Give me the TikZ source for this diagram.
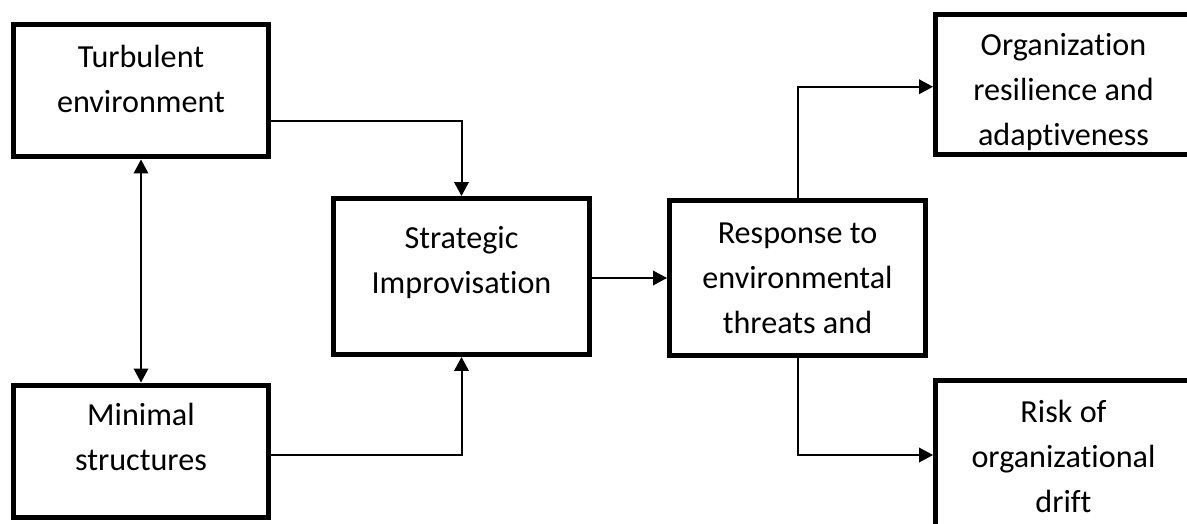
\documentclass[tikz,border=0pt]{standalone}
\usepackage{fontspec}
\setmainfont{Carlito}[Ligatures={NoCommon,NoRare}]
\usetikzlibrary{arrows.meta}
\usetikzlibrary{positioning}
\usetikzlibrary{calc}

\begin{document}
\begin{tikzpicture}[x=0.02cm,y=-0.02cm,
    >={Triangle[length=0.28cm,width=0.29cm]},
    blk/.style={draw,line width=0.1cm,minimum width=5.12cm,inner sep=0pt},
    txt/.style={align=center,inner sep=0pt,font=\fontsize{18.3}{25.6}\selectfont},
    lnk/.style={line width=0.04cm}]
          \useasboundingbox (0,0) rectangle (1187,524);
          \clip (0,0) rectangle (1187,524);

          % boxes
          \node[blk,minimum height=2.66cm] (turb) at (141,90.5) {};
          \node[blk,minimum height=2.66cm] (mini) at (141,451.5) {};
          \node[blk,minimum height=3.12cm] (strat) at (461.5,276.5) {};
          \node[blk,minimum height=3.1cm] (resp) at (797.5,278) {};
          \node[blk,minimum height=2.81cm] (org) at (1063.5,84.75) {};
          \node[blk,minimum height=2.98cm] (risk) at (1063.5,455) {};

          % texts, placed by their last line
          \node[txt,anchor=base] (turbtxt) at ($(turb.north)+(0,90.5)$) {Turbulent\\environment};
          \node[txt,anchor=base] (minitxt) at ($(mini.north)+(0,87.5)$) {Minimal\\structures};
          \node[txt,anchor=base] (strattxt) at ($(strat.north)+(0,97)$) {Strategic\\Improvisation};
          \node[txt,anchor=base] (resptxt) at ($(resp.north)+(0,135)$) {Response to\\environmental\\threats and};
          \node[txt,anchor=base] (orgtxt) at ($(org.north)+(0,133)$) {Organization\\resilience and\\adaptiveness};
          \node[txt,anchor=base] (risktxt) at ($(risk.north)+(0,134)$) {Risk of\\organizational\\drift};

          % links
          \draw[lnk,<->] (turb.south) -- (mini.north);
          \draw[lnk,->] ([yshift=-0.61cm]turb.east) -| (strat.north);
          \draw[lnk,->] ([yshift=-0.07cm]mini.east) -| (strat.south);
          \draw[lnk,->] (strat.east |- resp.west) -- (resp.west);
          \draw[lnk,->] (resp.north) |- ([yshift=-0.04cm]org.west);
          \draw[lnk,->] (resp.south) |- (risk.west);
\end{tikzpicture}
\end{document}
